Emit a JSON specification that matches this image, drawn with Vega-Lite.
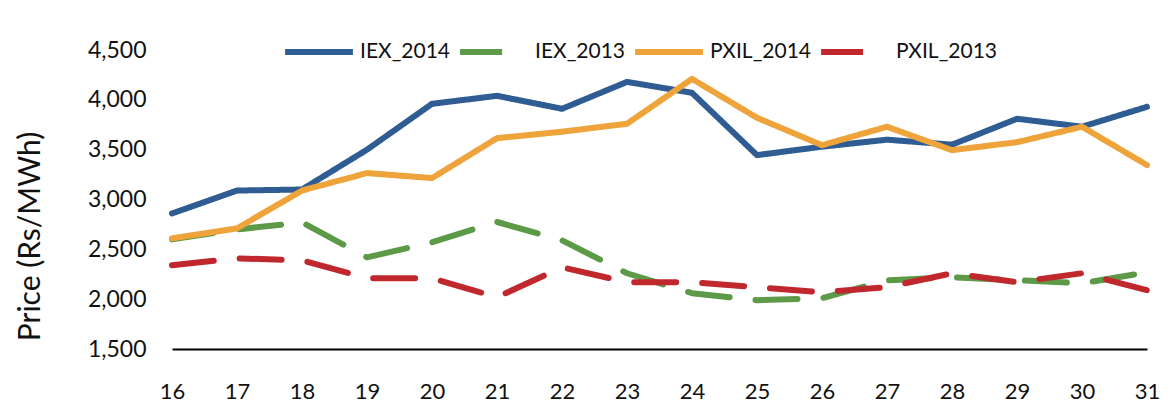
{
  "$schema": "https://vega.github.io/schema/vega-lite/v6.json",
  "width": 975,
  "height": 299,
  "autosize": {"type": "none"},
  "padding": {"left": 172, "top": 50, "right": 26, "bottom": 68},
  "background": "white",
  "config": {
    "view": {"stroke": null},
    "font": "Lato"
  },
  "data": {
    "values": [
      {"day": 16, "series": "IEX_2014", "price": 2860},
      {"day": 17, "series": "IEX_2014", "price": 3090},
      {"day": 18, "series": "IEX_2014", "price": 3100},
      {"day": 19, "series": "IEX_2014", "price": 3500},
      {"day": 20, "series": "IEX_2014", "price": 3960},
      {"day": 21, "series": "IEX_2014", "price": 4040},
      {"day": 22, "series": "IEX_2014", "price": 3910},
      {"day": 23, "series": "IEX_2014", "price": 4180},
      {"day": 24, "series": "IEX_2014", "price": 4070},
      {"day": 25, "series": "IEX_2014", "price": 3445},
      {"day": 26, "series": "IEX_2014", "price": 3530},
      {"day": 27, "series": "IEX_2014", "price": 3600},
      {"day": 28, "series": "IEX_2014", "price": 3550},
      {"day": 29, "series": "IEX_2014", "price": 3810},
      {"day": 30, "series": "IEX_2014", "price": 3730},
      {"day": 31, "series": "IEX_2014", "price": 3930},
      {"day": 16, "series": "IEX_2013", "price": 2600},
      {"day": 17, "series": "IEX_2013", "price": 2700},
      {"day": 18, "series": "IEX_2013", "price": 2770},
      {"day": 19, "series": "IEX_2013", "price": 2420},
      {"day": 20, "series": "IEX_2013", "price": 2570},
      {"day": 21, "series": "IEX_2013", "price": 2775},
      {"day": 22, "series": "IEX_2013", "price": 2590},
      {"day": 23, "series": "IEX_2013", "price": 2260},
      {"day": 24, "series": "IEX_2013", "price": 2060},
      {"day": 25, "series": "IEX_2013", "price": 1990},
      {"day": 26, "series": "IEX_2013", "price": 2010},
      {"day": 27, "series": "IEX_2013", "price": 2190},
      {"day": 28, "series": "IEX_2013", "price": 2220},
      {"day": 29, "series": "IEX_2013", "price": 2190},
      {"day": 30, "series": "IEX_2013", "price": 2160},
      {"day": 31, "series": "IEX_2013", "price": 2270},
      {"day": 16, "series": "PXIL_2014", "price": 2610},
      {"day": 17, "series": "PXIL_2014", "price": 2710},
      {"day": 18, "series": "PXIL_2014", "price": 3090},
      {"day": 19, "series": "PXIL_2014", "price": 3265},
      {"day": 20, "series": "PXIL_2014", "price": 3215},
      {"day": 21, "series": "PXIL_2014", "price": 3615},
      {"day": 22, "series": "PXIL_2014", "price": 3680},
      {"day": 23, "series": "PXIL_2014", "price": 3760},
      {"day": 24, "series": "PXIL_2014", "price": 4210},
      {"day": 25, "series": "PXIL_2014", "price": 3820},
      {"day": 26, "series": "PXIL_2014", "price": 3545},
      {"day": 27, "series": "PXIL_2014", "price": 3730},
      {"day": 28, "series": "PXIL_2014", "price": 3495},
      {"day": 29, "series": "PXIL_2014", "price": 3575},
      {"day": 30, "series": "PXIL_2014", "price": 3730},
      {"day": 31, "series": "PXIL_2014", "price": 3345},
      {"day": 16, "series": "PXIL_2013", "price": 2340},
      {"day": 17, "series": "PXIL_2013", "price": 2410},
      {"day": 18, "series": "PXIL_2013", "price": 2390},
      {"day": 19, "series": "PXIL_2013", "price": 2210},
      {"day": 20, "series": "PXIL_2013", "price": 2210},
      {"day": 21, "series": "PXIL_2013", "price": 2020},
      {"day": 22, "series": "PXIL_2013", "price": 2320},
      {"day": 23, "series": "PXIL_2013", "price": 2170},
      {"day": 24, "series": "PXIL_2013", "price": 2170},
      {"day": 25, "series": "PXIL_2013", "price": 2120},
      {"day": 26, "series": "PXIL_2013", "price": 2070},
      {"day": 27, "series": "PXIL_2013", "price": 2120},
      {"day": 28, "series": "PXIL_2013", "price": 2260},
      {"day": 29, "series": "PXIL_2013", "price": 2170},
      {"day": 30, "series": "PXIL_2013", "price": 2260},
      {"day": 31, "series": "PXIL_2013", "price": 2090}
    ]
  },
  "mark": {"type": "line", "strokeWidth": 6, "strokeCap": "round", "strokeJoin": "round"},
  "encoding": {
    "x": {
      "field": "day",
      "type": "quantitative",
      "scale": {"domain": [16, 31], "nice": false, "zero": false},
      "axis": {
        "title": null,
        "values": [16,17,18,19,20,21,22,23,24,25,26,27,28,29,30,31],
        "ticks": false,
        "grid": false,
        "domainColor": "black",
        "domainWidth": 2,
        "labelFontSize": 22,
        "labelColor": "#111",
        "labelPadding": 32,
        "labelFlush": false
      }
    },
    "y": {
      "field": "price",
      "type": "quantitative",
      "scale": {"domain": [1500, 4500], "nice": false, "zero": false},
      "axis": {
        "title": "Price (Rs/MWh)",
        "values": [1500, 2000, 2500, 3000, 3500, 4000, 4500],
        "format": ",d",
        "ticks": false,
        "grid": false,
        "domain": false,
        "labelFontSize": 23,
        "labelColor": "#111",
        "labelPadding": 26,
        "titleFontSize": 30,
        "titleFontWeight": "normal",
        "titleColor": "#111",
        "titleX": -142,
        "titleY": 186,
        "titleAngle": -90,
        "titleAlign": "center",
        "titleBaseline": "middle"
      }
    },
    "color": {
      "field": "series",
      "type": "nominal",
      "scale": {
        "domain": ["IEX_2014", "IEX_2013", "PXIL_2014", "PXIL_2013"],
        "range": ["#2f5d93", "#5c9a47", "#eea33b", "#c1282d"]
      },
      "legend": {
        "title": null,
        "orient": "none",
        "legendX": 110,
        "legendY": -35,
        "direction": "horizontal",
        "symbolType": "stroke",
        "symbolSize": 4600,
        "symbolStrokeWidth": 6,
        "labelFontSize": 21,
        "labelColor": "#111",
        "labelOffset": 4,
        "columnPadding": -2
      }
    },
    "strokeDash": {
      "field": "series",
      "type": "nominal",
      "scale": {
        "domain": ["IEX_2014", "IEX_2013", "PXIL_2014", "PXIL_2013"],
        "range": [[1, 0], [42, 26], [1, 0], [42, 26]]
      },
      "legend": null
    }
  }
}
